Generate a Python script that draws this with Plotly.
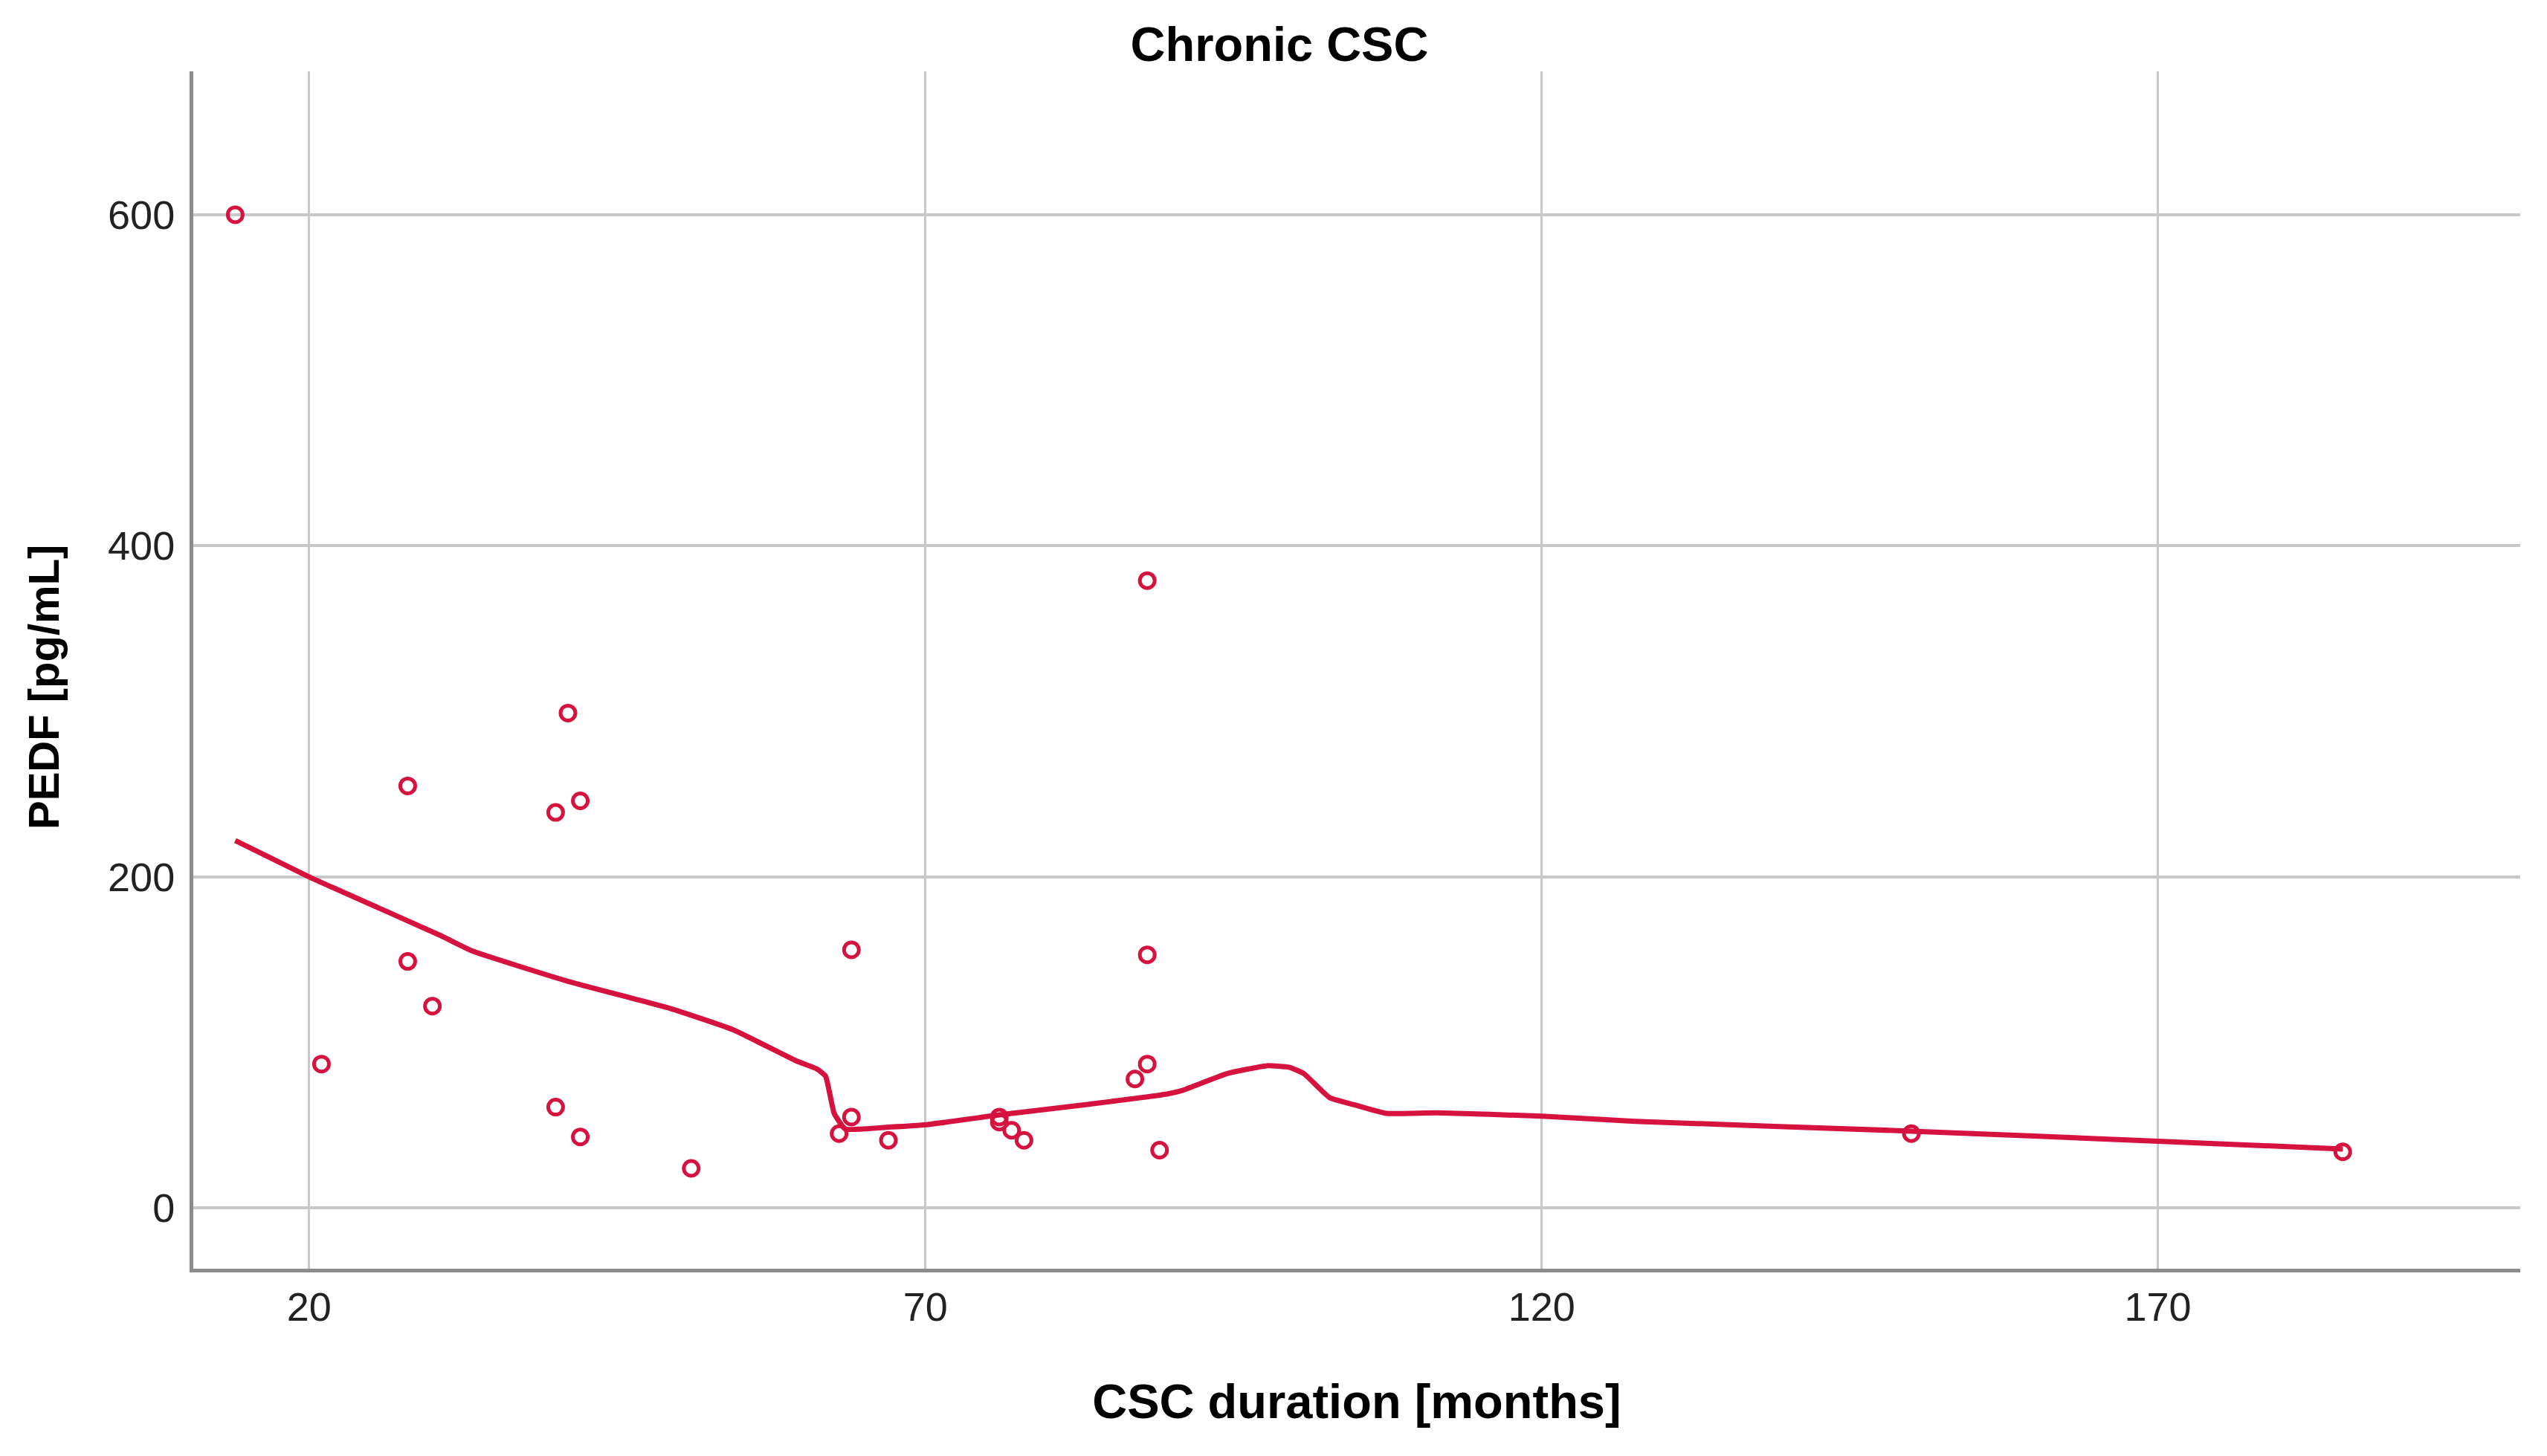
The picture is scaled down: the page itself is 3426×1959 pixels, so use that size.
import plotly.graph_objects as go

# Scatter data: CSC duration [months] vs PEDF [pg/mL]
duration = [14, 21, 28, 28, 30, 40, 40, 41, 42, 42, 51, 63, 64, 64, 67,
            76, 76, 77, 78, 87, 88, 88, 88, 89, 150, 185]
pedf = [600, 87, 255, 149, 122, 239, 61, 299, 246, 43, 24, 45, 156, 55, 41,
        55, 52, 47, 41, 78, 379, 153, 87, 35, 45, 34]

# Fit line
fit_x = [14, 20, 21.8, 30.7, 33.2, 40.8, 49.3, 54.4, 59.5, 61.2, 61.9, 62.6,
         63.5, 67.2, 70.1, 76, 82.9, 89.6, 90.8, 94.5, 97.7, 99.5, 100.7,
         102.8, 104.8, 107.4, 111.5, 120, 127.6, 150, 170, 185]
fit_y = [222, 200, 194, 164.5, 155.4, 137.4, 120.6, 107.7, 89, 84, 79.7, 57.2,
         47.8, 49, 50.4, 56.3, 62.4, 68.9, 71, 81.3, 86, 85.1, 81.3,
         66.7, 62.4, 57.2, 57.6, 55.5, 52.4, 46.5, 40.4, 35.7]

x_ticks = [20, 70, 120, 170]
y_ticks = [0, 200, 400, 600]

RED = "#d6123f"

fig = go.Figure()
fig.add_trace(go.Scatter(
    x=fit_x, y=fit_y, mode="lines",
    line=dict(color=RED, width=7, shape="spline", smoothing=0.4),
    showlegend=False, hoverinfo="skip"))
fig.add_trace(go.Scatter(
    x=duration, y=pedf, mode="markers",
    marker=dict(symbol="circle-open", size=20, color=RED, line=dict(width=5, color=RED)),
    showlegend=False))

tick_font = dict(family="Liberation Sans, Arial, sans-serif", size=54, color="#222222")
title_font = dict(family="Liberation Sans, Arial, sans-serif", size=65, color="#000000")

fig.update_layout(
    width=3426, height=1959,
    margin=dict(l=252, r=44, t=88, b=260),
    paper_bgcolor="white", plot_bgcolor="white",
    title=dict(text="<b>Chronic CSC</b>", x=0.5, xref="container", xanchor="center",
               y=1 - 51 / 1959, yref="container", yanchor="middle",
               font=title_font),
    xaxis=dict(
        range=[10.6, 199.4], tickvals=x_ticks, ticktext=[str(v) for v in x_ticks],
        showgrid=True, gridcolor="#c8c8c8", gridwidth=3,
        showline=True, linecolor="#8c8c8c", linewidth=5, mirror=False,
        zeroline=False, ticks="", tickfont=tick_font, ticklabelstandoff=0,
        title=dict(text="<b>CSC duration [months]</b>", font=title_font, standoff=77),
        automargin=False),
    yaxis=dict(
        range=[-36.6, 686.6], tickvals=y_ticks, ticktext=[str(v) for v in y_ticks],
        showgrid=True, gridcolor="#c8c8c8", gridwidth=4,
        showline=True, linecolor="#8c8c8c", linewidth=5, mirror=False,
        zeroline=False, ticks="", tickfont=tick_font, ticklabelstandoff=9,
        automargin=False),
    annotations=[dict(
        text="<b>PEDF [pg/mL]</b>", textangle=-90, showarrow=False,
        xref="paper", yref="paper", x=0, y=0.4854, xanchor="center", yanchor="middle",
        xshift=-202,
        font=dict(family="Liberation Sans, Arial, sans-serif", size=58, color="#000000"))],
)

fig.write_html("out.html")
